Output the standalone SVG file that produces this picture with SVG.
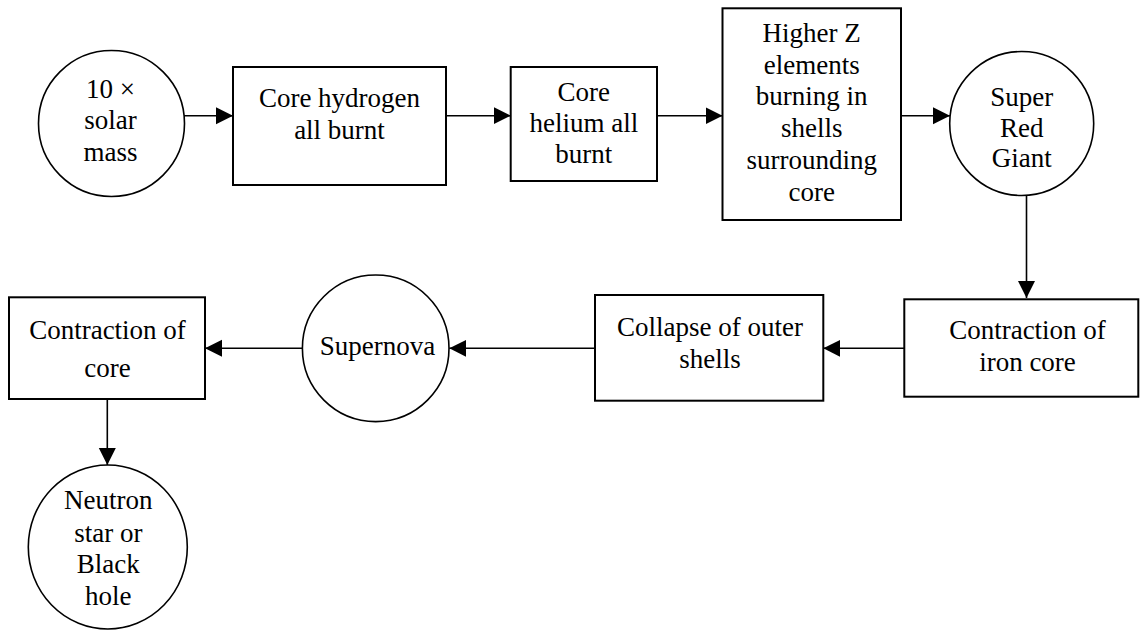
<svg xmlns="http://www.w3.org/2000/svg" width="1141" height="632" viewBox="0 0 1141 632">
<defs>
<marker id="ah" markerUnits="userSpaceOnUse" markerWidth="18" markerHeight="18" refX="17" refY="8.5" orient="auto">
<path d="M0,0 L17,8.5 L0,17 z" fill="#000"/>
</marker>
</defs>
<style>
.n rect, .n circle, .n ellipse { fill: #fff; stroke: #000; }
.n rect { stroke-width: 2; }
.n circle, .n ellipse { stroke-width: 1.6; }
text { font-family: "Liberation Serif", "Times New Roman", serif; font-size: 27px; fill: #000; text-anchor: middle; }
.c line { stroke: #000; stroke-width: 1.6; marker-end: url(#ah); }
</style>
<rect x="0" y="0" width="1141" height="632" style="fill:#fff;stroke:none"/>
<g class="c" id="connectors">
<line x1="184" y1="115.7" x2="233" y2="115.7"/>
<line x1="446" y1="115.7" x2="510.7" y2="115.7"/>
<line x1="657" y1="115.7" x2="722.5" y2="115.7"/>
<line x1="901" y1="115.7" x2="950" y2="115.7"/>
<line x1="1026.5" y1="196" x2="1026.5" y2="298"/>
<line x1="904.3" y1="348.3" x2="823.3" y2="348.3"/>
<line x1="595" y1="348.3" x2="449.3" y2="348.3"/>
<line x1="302.3" y1="348.3" x2="205" y2="348.3"/>
<line x1="107.3" y1="399" x2="107.3" y2="465"/>
</g>
<g class="n" id="n_mass">
<circle cx="111.5" cy="123.5" r="73"/>
<text x="110.5" y="98.3">10 ×</text>
<text x="110.5" y="129.3">solar</text>
<text x="110.5" y="161">mass</text>
</g>
<g class="n" id="n_hydrogen">
<rect x="233" y="67" width="213" height="118"/>
<text x="339.5" y="107.3">Core hydrogen</text>
<text x="339.5" y="139.3">all burnt</text>
</g>
<g class="n" id="n_helium">
<rect x="510.7" y="67" width="146.3" height="114"/>
<text x="583.8" y="101">Core</text>
<text x="583.8" y="131.7">helium all</text>
<text x="583.8" y="163.3">burnt</text>
</g>
<g class="n" id="n_higherz">
<rect x="722.5" y="8.3" width="178.5" height="211.7"/>
<text x="811.7" y="41.7">Higher Z</text>
<text x="811.7" y="73.5">elements</text>
<text x="811.7" y="105.3">burning in</text>
<text x="811.7" y="137.1">shells</text>
<text x="811.7" y="168.9">surrounding</text>
<text x="811.7" y="200.7">core</text>
</g>
<g class="n" id="n_giant">
<circle cx="1021.7" cy="123.5" r="72"/>
<text x="1021.7" y="106">Super</text>
<text x="1021.7" y="137.3">Red</text>
<text x="1021.7" y="167.3">Giant</text>
</g>
<g class="n" id="n_iron">
<rect x="904.3" y="299.3" width="234" height="97.4"/>
<text x="1027.5" y="339.3">Contraction of</text>
<text x="1027.5" y="371">iron core</text>
</g>
<g class="n" id="n_collapse">
<rect x="595" y="295" width="228.3" height="105.7"/>
<text x="710" y="336">Collapse of outer</text>
<text x="710" y="368.3">shells</text>
</g>
<g class="n" id="n_supernova">
<circle cx="375.7" cy="348.3" r="73.3"/>
<text x="377.5" y="355">Supernova</text>
</g>
<g class="n" id="n_core">
<rect x="9" y="297.3" width="196" height="101.7"/>
<text x="107.5" y="339">Contraction of</text>
<text x="107.5" y="377.3">core</text>
</g>
<g class="n" id="n_remnant">
<ellipse cx="107.8" cy="547" rx="79.5" ry="82"/>
<text x="108.3" y="509.3">Neutron</text>
<text x="108.3" y="541.7">star or</text>
<text x="108.3" y="573.3">Black</text>
<text x="108.3" y="605">hole</text>
</g>
</svg>
